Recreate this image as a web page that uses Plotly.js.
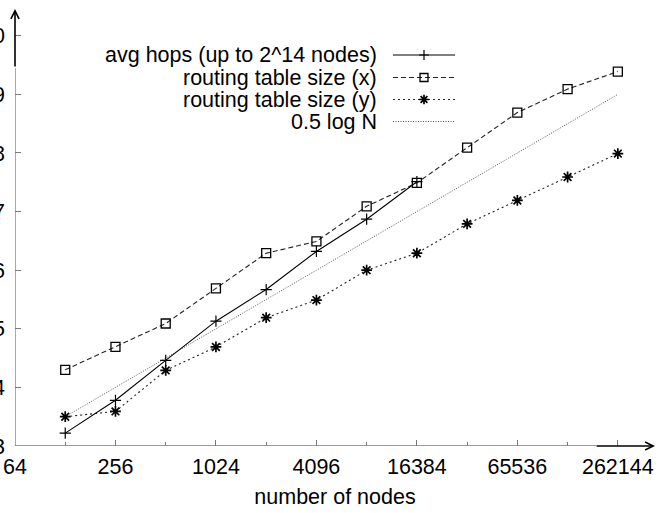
<!DOCTYPE html>
<html>
<head>
<meta charset="utf-8">
<script src="https://cdn.plot.ly/plotly-3.0.1.min.js"></script>
<style>html,body{margin:0;padding:0;background:#fff;}#chart{width:658px;height:513px;}</style>
</head>
<body>
<div id="chart"></div>
<script>
// ---- data ----
const nodes = [128, 256, 512, 1024, 2048, 4096, 8192, 16384, 32768, 65536, 131072, 262144];
const hopNodes = [128, 256, 512, 1024, 2048, 4096, 8192, 16384];
const avgHops = [3.22, 3.78, 4.46, 5.13, 5.67, 6.32, 6.87, 7.51];
const routingX = [4.30, 4.69, 5.09, 5.69, 6.29, 6.49, 7.09, 7.49, 8.09, 8.69, 9.09, 9.39];
const routingY = [3.50, 3.59, 4.29, 4.69, 5.19, 5.49, 6.00, 6.29, 6.79, 7.19, 7.59, 7.99];
const halfLogN = [3.5, 4.0, 4.5, 5.0, 5.5, 6.0, 6.5, 7.0, 7.5, 8.0, 8.5, 9.0];
const seriesNames = ["avg hops (up to 2^14 nodes)", "routing table size (x)", "routing table size (y)", "0.5 log N"];
const xTickVals = [64, 256, 1024, 4096, 16384, 65536, 262144];
const xTickText = ["64", "256", "1024", "4096", "16384", "65536", "262144"];
const xMinorVals = [128, 512, 2048, 8192, 32768, 131072];
const yTickVals = [3, 4, 5, 6, 7, 8, 9, 10];

// ---- styles ----
const FONT = "Liberation Sans, Arial, Helvetica, sans-serif";
const FS = 21.5;
const AX = "#7a7a7a";
const styles = [
  {line: {color: "#000", width: 1.1, dash: "solid"}, marker: {symbol: "cross-thin-open", size: 8, color: "#000", line: {color: "#000", width: 1.2}}},
  {line: {color: "#222", width: 1.1, dash: "5px,3px"}, marker: {symbol: "square-open", size: 9, color: "#000", line: {color: "#000", width: 1.3}}},
  {line: {color: "#222", width: 1.1, dash: "2px,3px"}, marker: {symbol: "asterisk-open", size: 9, color: "#000", line: {color: "#000", width: 1.7}}},
  {line: {color: "#555", width: 1, dash: "1px,1.5px"}, marker: {size: 0, color: "#555"}}
];

const dataSets = [
  {x: hopNodes, y: avgHops, mode: "lines+markers"},
  {x: nodes, y: routingX, mode: "lines+markers"},
  {x: nodes, y: routingY, mode: "lines+markers"},
  {x: nodes, y: halfLogN, mode: "lines"}
];

const traces = [];
[3, 1, 2, 0].forEach(i => {
  traces.push(Object.assign({type: "scatter", name: seriesNames[i], showlegend: false,
    line: styles[i].line, marker: styles[i].marker, xaxis: "x", yaxis: "y", cliponaxis: false}, dataSets[i]));
});

// legend samples on pixel-coordinate overlay axes
const legRows = [55, 77.5, 99.5, 121.5];
const annotations = [];
legRows.forEach((ry, i) => {
  traces.push({type: "scatter", xaxis: "x2", yaxis: "y2", showlegend: false, hoverinfo: "skip",
    x: [393, 455], y: [ry, ry], mode: "lines", line: styles[i].line});
  if (i < 3) {
    traces.push({type: "scatter", xaxis: "x2", yaxis: "y2", showlegend: false, hoverinfo: "skip",
      x: [424], y: [ry], mode: "markers", marker: Object.assign({}, styles[i].marker, {size: styles[i].marker.size - 1})});
  }
  annotations.push({xref: "x2", yref: "y2", x: 379, y: ry, xanchor: "right", yanchor: "middle",
    text: seriesNames[i], showarrow: false, font: {family: FONT, size: FS, color: "#000"}});
});

// axis arrows
annotations.push({xref: "x2", yref: "y2", axref: "x2", ayref: "y2", x: 15, y: 9, ax: 15, ay: 68,
  text: "", showarrow: true, arrowhead: 5, arrowsize: 1, arrowwidth: 1.6, arrowcolor: "#000"});
annotations.push({xref: "x2", yref: "y2", axref: "x2", ayref: "y2", x: 655, y: 446, ax: 595, ay: 446,
  text: "", showarrow: true, arrowhead: 5, arrowsize: 1, arrowwidth: 1.6, arrowcolor: "#000"});

const shapes = [
  {type: "line", xref: "x2", yref: "y2", x0: 15, x1: 15, y0: 446, y1: 68, line: {color: AX, width: 1.3}},
  {type: "line", xref: "x2", yref: "y2", x0: 15, x1: 596, y0: 446, y1: 446, line: {color: AX, width: 1.3}}
];

const layout = {
  width: 658, height: 513,
  margin: {l: 15, r: 3, t: 8, b: 67},
  paper_bgcolor: "#fff", plot_bgcolor: "#fff",
  showlegend: false,
  font: {family: FONT, size: FS, color: "#000"},
  xaxis: {
    type: "log", range: [Math.log10(64), 18.74 * Math.log10(2)],
    tickmode: "array", tickvals: xTickVals, ticktext: xTickText,
    ticks: "inside", ticklen: 6, tickcolor: AX, tickwidth: 1,
    minor: {tickvals: xMinorVals, ticks: "inside", ticklen: 4, tickcolor: AX, tickwidth: 1},
    showgrid: false, zeroline: false, showline: false,
    tickfont: {family: FONT, size: FS, color: "#000"},
    ticklabelstandoff: 5,
    title: {text: "number of nodes", font: {family: FONT, size: FS, color: "#000"}, standoff: 11},
    automargin: false
  },
  yaxis: {
    range: [3, 10.474],
    tickmode: "array", tickvals: yTickVals,
    ticks: "inside", ticklen: 6, tickcolor: AX, tickwidth: 1,
    showgrid: false, zeroline: false, showline: false,
    tickfont: {family: FONT, size: FS, color: "#000"},
    ticklabelstandoff: 9,
    automargin: false
  },
  xaxis2: {overlaying: "x", anchor: "y2", range: [15, 655], visible: false, fixedrange: true},
  yaxis2: {overlaying: "y", anchor: "x2", range: [446, 8], visible: false, fixedrange: true},
  shapes: shapes,
  annotations: annotations
};

Plotly.newPlot("chart", traces, layout, {displayModeBar: false, staticPlot: true});
</script>
</body>
</html>
